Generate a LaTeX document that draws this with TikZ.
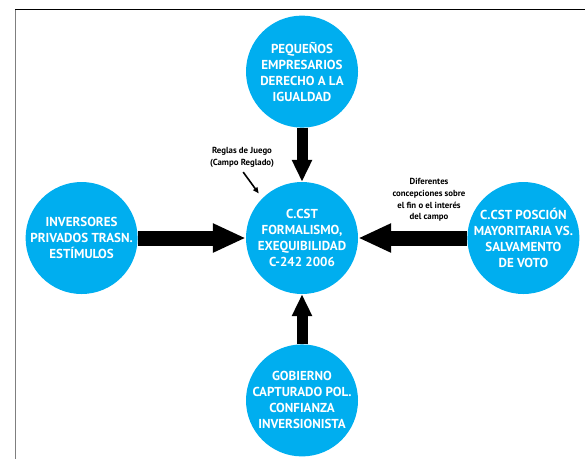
\documentclass[tikz,border=0pt]{standalone}
\usepackage{fontspec}
\setmainfont{PT Sans}
\usepackage{xcolor}
\usetikzlibrary{positioning,arrows.meta}

\definecolor{cstblue}{HTML}{00AEEF}
\definecolor{framegray}{HTML}{7F7F7F}

\begin{document}
\begin{tikzpicture}[x=1pt, y=-1pt,
	actor/.style={circle, fill=cstblue, minimum size=112pt, inner sep=0pt},
	actortext/.style={text=white, align=center, font=\bfseries\fontsize{13}{16}\selectfont},
	note/.style={align=center, font=\bfseries\fontsize{8.8}{11.7}\selectfont},
	pushh/.style={line width=15pt, -{Triangle[length=33pt, width=27pt]}},
	pushv/.style={line width=11pt, -{Triangle[length=22pt, width=19pt]}},
	pointer/.style={line width=1.6pt, -{Triangle[length=6pt, width=5pt]}}]
				\useasboundingbox (0,0) rectangle (585,459);
				% marco
				\draw[framegray, line width=1pt] (15,9) -- (15,459);
				\draw[black, line width=1pt] (15,9) -- (585,9);
				
				\node[actor, label={[actortext, name=centert]center:{C.CST\\FORMALISMO,\\EXEQUIBILIDAD\\C-242 2006}}] (center) at (302,238) {};
				\node[actor, above=54pt of center, label={[actortext, name=topt]center:{PEQUEÑOS\\EMPRESARIOS\\DERECHO A LA\\IGUALDAD}}] (top) {};
				\node[actor, left=108pt of center, label={[actortext, name=leftt]center:{INVERSORES\\PRIVADOS TRASN.\\ESTÍMULOS}}] (left) {};
				\node[actor, right=109pt of center, label={[actortext, name=rightt]center:{C.CST POSCIÓN\\MAYORITARIA VS.\\SALVAMENTO\\DE VOTO}}] (right) {};
				\node[actor, below=50pt of center, label={[actortext, name=bottomt]center:{GOBIERNO\\CAPTURADO POL.\\CONFIANZA\\INVERSIONISTA}}] (bottom) {};
				
				\node[note] (rules) at (242,157) {Reglas de Juego\\(Campo Reglado)};
				\node[note] (ends) at (429,200) {Diferentes\\concepciones sobre\\el fin o el interés\\del campo};
				
				\draw[pushv] (top) -- (center);
				\draw[pushv] (bottom) -- (center);
				\draw[pushh] (left) -- (center);
				\draw[pushh] (right) -- (center);
				\draw[pointer, shorten <=2pt, shorten >=6pt] (rules.south) -- (center.135);
			\end{tikzpicture}
\end{document}
